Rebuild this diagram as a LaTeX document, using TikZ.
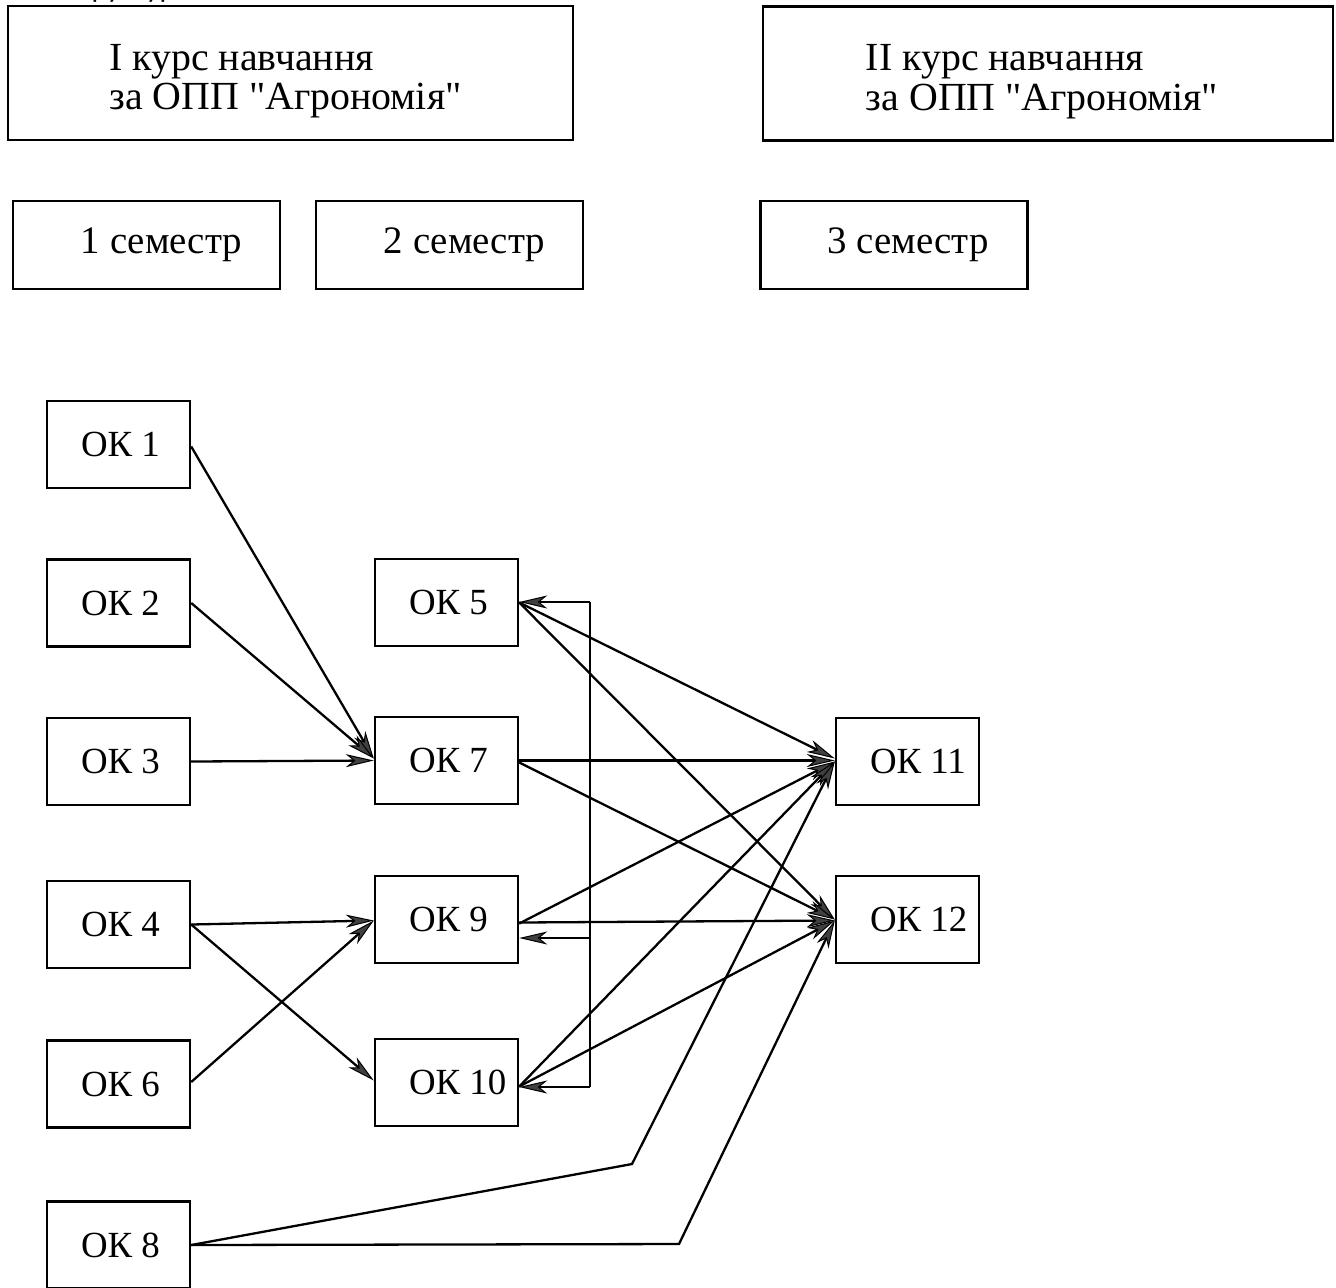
\documentclass[tikz,border=0pt]{standalone}
\usepackage{fontspec}
\setmainfont{Liberation Serif}
\newfontfamily\sansf{Carlito}
\usetikzlibrary{arrows.meta,calc}
\begin{document}
\begin{tikzpicture}[x=1bp,y=-1bp,
  box/.style={draw, line width=2.4bp, inner sep=0pt},
  topbox/.style={box, minimum height=134bp, font=\fontsize{40}{40}\selectfont},
  sembox/.style={box, minimum width=267bp, minimum height=88bp, font=\fontsize{39}{40}\selectfont},
  okbox/.style={box, minimum height=87bp, inner xsep=34bp, font=\fontsize{37}{40}\selectfont},
  conn/.style={line width=2.3bp},
  arr/.style={conn, -{Stealth[length=28bp,width=13bp,inset=8bp,fill=black!75,line width=1bp]}}
]
\useasboundingbox (0,0) rectangle (1336,1287);
\fill[white] (0,0) rectangle (1336,1287);

\node[font=\sansf\fontsize{30}{30}\selectfont, anchor=base west, inner sep=0pt] (ttl) at (64,-3) {Структура};

% course boxes
\node[topbox, minimum width=565bp] (c1) at (290.5,73) {\raisebox{3bp}[0pt][0pt]{\begin{tabular}[t]{@{}l@{}}І курс навчання\\за ОПП \textquotedbl Агрономія\textquotedbl\end{tabular}}\hspace*{10bp}};
\node[topbox, minimum width=570bp] (c2) at (1048,73.5) {\raisebox{3bp}[0pt][0pt]{\begin{tabular}[t]{@{}l@{}}ІІ курс навчання\\за ОПП \textquotedbl Агрономія\textquotedbl\end{tabular}}\hspace*{12bp}};

% semester boxes
\node[sembox] (s1) at (146.5,245) {\hspace*{30bp}1 семестр};
\node[sembox] (s2) at (449.5,245) {\hspace*{30bp}2 семестр};
\node[sembox] (s3) at (894,245) {\hspace*{28bp}3 семестр};

% OK boxes
\newcommand{\oktxt}[1]{\makebox[75bp][l]{#1}}
\node[okbox] (ok1) at (118.5,444.5) {\oktxt{ОК 1}};
\node[okbox] (ok2) at (118.5,603) {\oktxt{ОК 2}};
\node[okbox] (ok3) at (118.5,761.5) {\oktxt{ОК 3}};
\node[okbox] (ok4) at (118.5,924.5) {\oktxt{ОК 4}};
\node[okbox] (ok6) at (118.5,1084) {\oktxt{ОК 6}};
\node[okbox] (ok8) at (118.5,1245) {\oktxt{ОК 8}};

\node[okbox] (ok5) at (446.5,602.5) {\oktxt{ОК 5}};
\node[okbox] (ok7) at (446.5,760.5) {\oktxt{ОК 7}};
\node[okbox] (ok9) at (446.5,919.5) {\oktxt{ОК 9}};
\node[okbox] (ok10) at (446.5,1082.5) {\oktxt{ОК 10}};

\node[okbox] (ok11) at (907.5,761.5) {\oktxt{ОК 11}};
\node[okbox] (ok12) at (907.5,919.5) {\oktxt{ОК 12}};

% first column to second
\draw[arr] ($(ok1.east)+(0,2)$) -- ($(ok7.west)+(0,-2)$);
\draw[arr] (ok2.east) -- ($(ok7.west)+(0,-2)$);
\draw[arr] (ok3.east) -- (ok7.west);
\draw[arr] (ok4.east) -- ($(ok9.west)+(0,1)$);
\draw[arr] (ok4.east) -- ($(ok10.west)+(0,-2)$);
\draw[arr] ($(ok6.east)+(0,-2)$) -- ($(ok9.west)+(0,1)$);

% second column to third
\draw[arr] (ok5.east) -- ($(ok11.west)+(0,-3)$);
\draw[arr] (ok5.east) -- ($(ok12.west)+(0,0)$);
\draw[arr] (ok7.east) -- ($(ok11.west)+(0,-1)$);
\draw[arr] ($(ok7.east)+(0,2)$) -- ($(ok12.west)+(0,0)$);
\draw[arr] ($(ok9.east)+(0,4)$) -- ($(ok11.west)+(0,0)$);
\draw[arr] ($(ok9.east)+(0,3)$) -- ($(ok12.west)+(0,1)$);
\draw[arr] ($(ok10.east)+(0,4)$) -- ($(ok11.west)+(0,0)$);
\draw[arr] ($(ok10.east)+(0,4)$) -- ($(ok12.west)+(0,1)$);

% OK 8 bent connectors
\coordinate (b1) at (632,1164);
\coordinate (b2) at (679,1244);
\draw[arr] (ok8.east) -- (b1) -- ($(ok11.west)+(0,0)$);
\draw[arr] (ok8.east) -- (b2) -- ($(ok12.west)+(0,1)$);

% bracket
\coordinate (brt) at (590,602);
\coordinate (brm) at (590,938);
\coordinate (brb) at (590,1087);
\draw[conn] (brt) -- (brb);
\draw[arr] (brt) -- (brt -| ok5.east);
\draw[arr] (brm) -- (brm -| ok9.east);
\draw[arr] (brb) -- (brb -| ok10.east);
\end{tikzpicture}
\end{document}
